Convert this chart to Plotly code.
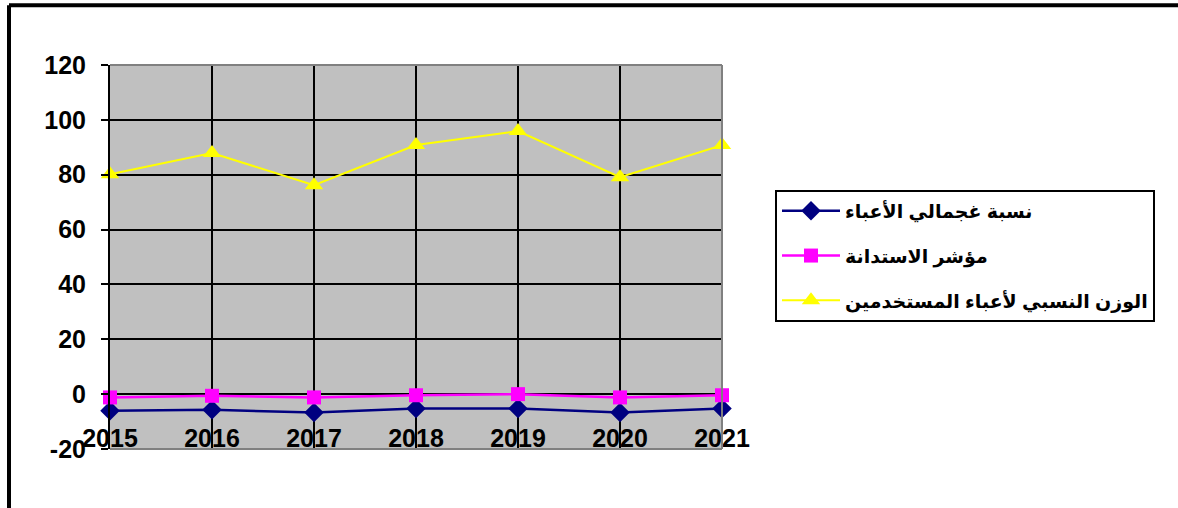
import plotly.graph_objects as go

years = [2015, 2016, 2017, 2018, 2019, 2020, 2021]
year_labels = ["2015", "2016", "2017", "2018", "2019", "2020", "2021"]
burden_ratio = [-6.1, -5.7, -6.7, -5.2, -5.2, -6.7, -5.2]
sustain_index = [-1.2, -0.6, -1.2, -0.4, 0.0, -1.2, -0.4]
user_weight = [80.2, 87.9, 76.2, 90.8, 95.9, 79.1, 90.8]

name1 = "نسبة غجمالي الأعباء"
name2 = "مؤشر الاستدانة"
name3 = "الوزن النسبي لأعباء المستخدمين"

y_ticks = [-20, 0, 20, 40, 60, 80, 100, 120]
y_tick_labels = ["-20", "0", "20", "40", "60", "80", "100", "120"]

FONT = "Liberation Sans, Arial, DejaVu Sans, sans-serif"

fig = go.Figure()
fig.add_trace(go.Scatter(
    x=years, y=burden_ratio, name=name1, mode="lines+markers",
    line=dict(color="#000080", width=2.5),
    marker=dict(symbol="diamond", size=15, color="#000080"),
    legendgroup="g1", cliponaxis=False))
fig.add_trace(go.Scatter(
    x=years, y=sustain_index, name=name2, mode="lines+markers",
    line=dict(color="#FF00FF", width=2.5),
    marker=dict(symbol="square", size=14, color="#FF00FF"),
    legendgroup="g2", cliponaxis=False))
fig.add_trace(go.Scatter(
    x=years, y=user_weight, name=name3, mode="lines+markers",
    line=dict(color="#FFFF00", width=2),
    marker=dict(symbol="triangle-up", size=16, color="#FFFF00"),
    legendgroup="g3", cliponaxis=False))

W, H = 1178, 508
L, R, T, B = 110, 456, 65, 59   # plot box edges: 110..722, 65..449
pw, ph = W - L - R, H - T - B
def px(v):
    return (v - L) / pw
def py(v):
    return (H - B - v) / ph

shapes = [
    dict(type="line", xref="paper", yref="paper", x0=px(9), x1=px(1300), y0=py(5.3), y1=py(5.3),
         line=dict(color="black", width=4)),
    dict(type="line", xref="paper", yref="paper", x0=px(9), x1=px(9), y0=py(5.3), y1=py(600),
         line=dict(color="black", width=4)),
    dict(type="line", xref="paper", yref="paper", x0=0, x1=1, y0=1, y1=1,
         line=dict(color="#808080", width=2), layer="above"),
    dict(type="line", xref="paper", yref="paper", x0=1, x1=1, y0=0, y1=1,
         line=dict(color="#808080", width=2), layer="above"),
    dict(type="line", xref="paper", yref="paper", x0=0, x1=1, y0=0, y1=0,
         line=dict(color="#808080", width=2), layer="above"),
]

fig.update_layout(
    width=W, height=H,
    margin=dict(l=L, r=R, t=T, b=B, pad=0),
    paper_bgcolor="white",
    plot_bgcolor="#C0C0C0",
    font=dict(family=FONT, size=24, color="black", weight="bold"),
    shapes=shapes,
    legend=dict(
        x=px(775), y=py(190), xanchor="left", yanchor="top",
        bgcolor="white", bordercolor="black", borderwidth=2,
        font=dict(family=FONT, size=19, color="black", weight="bold"),
        traceorder="grouped", tracegroupgap=17, itemwidth=58,
    ),
    xaxis=dict(
        range=[2015, 2021], tickmode="array", tickvals=years, ticktext=year_labels,
        showgrid=True, gridcolor="black", gridwidth=2,
        showline=False, zeroline=False, ticks="",
        anchor="free", position=py(421),
        tickfont=dict(family=FONT, size=25, color="black", weight="bold"),
    ),
    yaxis=dict(
        range=[-20, 120], tickmode="array", tickvals=y_ticks, ticktext=y_tick_labels,
        showgrid=True, gridcolor="black", gridwidth=2,
        zeroline=True, zerolinecolor="black", zerolinewidth=2,
        showline=True, linecolor="black", linewidth=2,
        ticks="outside", ticklen=7, tickwidth=2, tickcolor="black",
        ticklabelstandoff=10,
        tickfont=dict(family=FONT, size=25, color="black", weight="bold"),
    ),
)

fig.write_html("out.html", config={"displayModeBar": False},
               post_script="document.body.style.margin='0';")
